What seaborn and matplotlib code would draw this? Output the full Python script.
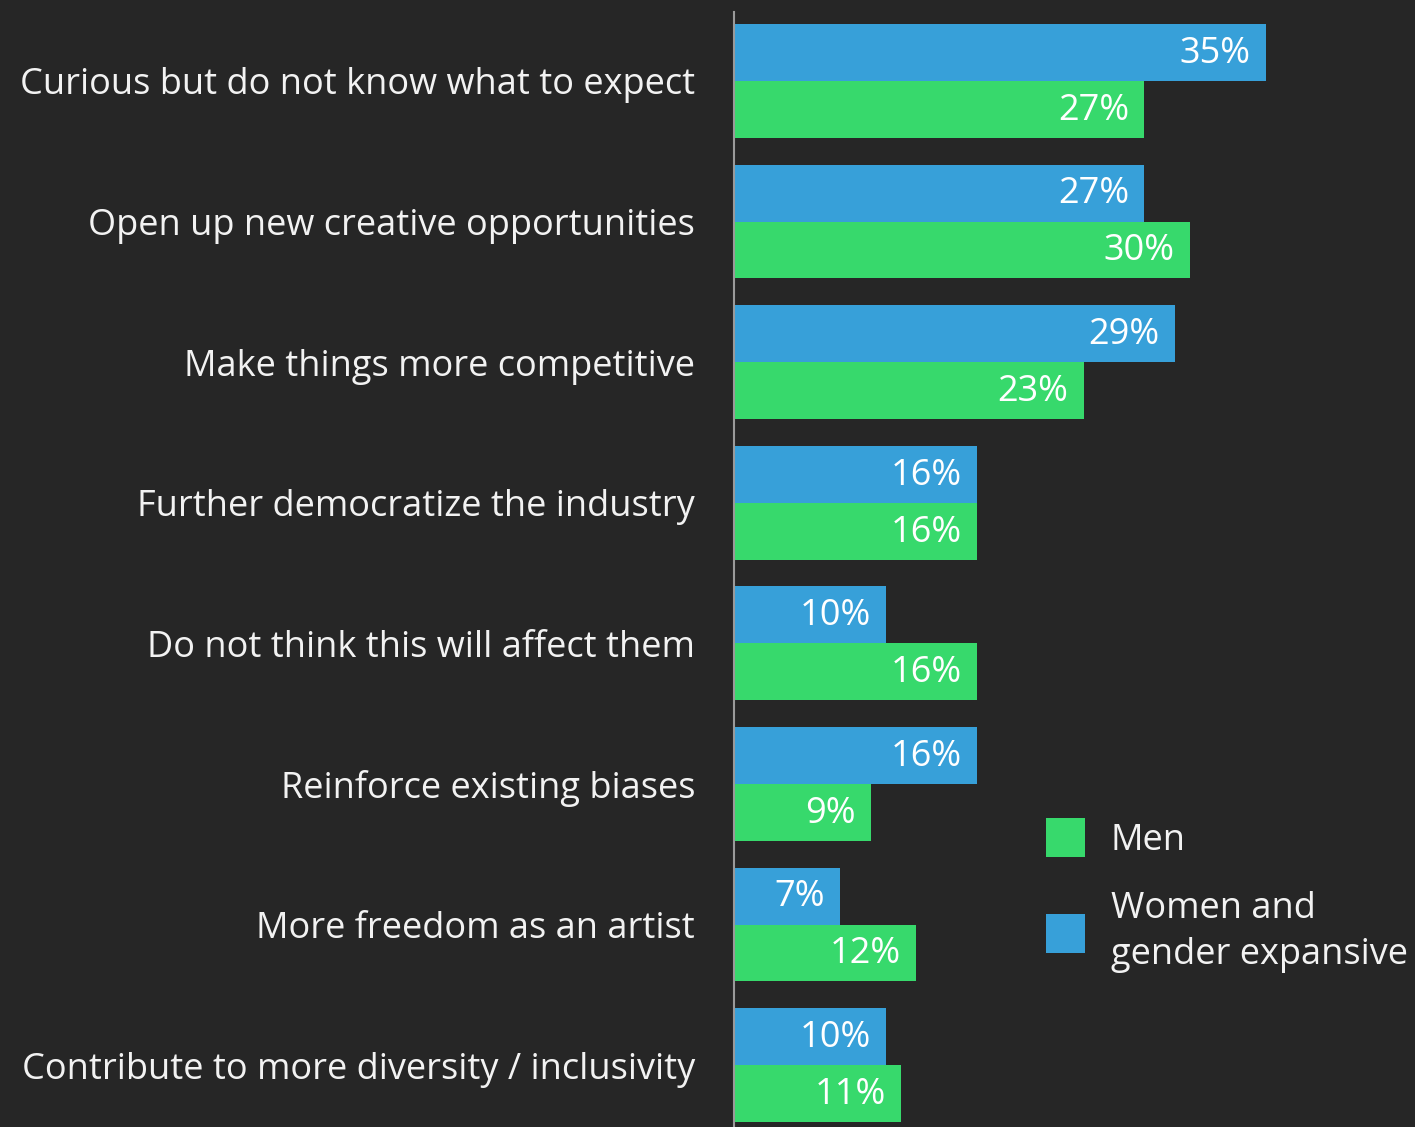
import matplotlib
matplotlib.use("Agg")
import matplotlib.pyplot as plt
from matplotlib.patches import Patch
import seaborn as sns
import pandas as pd

categories = [
    "Curious but do not know what to expect",
    "Open up new creative opportunities",
    "Make things more competitive",
    "Further democratize the industry",
    "Do not think this will affect them",
    "Reinforce existing biases",
    "More freedom as an artist",
    "Contribute to more diversity / inclusivity",
]
women = [35, 27, 29, 16, 10, 16, 7, 10]
men = [27, 30, 23, 16, 16, 9, 12, 11]

series_women = "Women and\ngender expansive"
series_men = "Men"

BG = "#262626"
BLUE = "#37A0D9"
GREEN = "#37D96C"
TEXT = "#F2F2F2"

df = pd.DataFrame({
    "category": categories * 2,
    "value": women + men,
    "group": [series_women] * len(categories) + [series_men] * len(categories),
})

sns.set_theme(style="white")
plt.rcParams["font.family"] = ["Open Sans", "DejaVu Sans"]

fig = plt.figure(figsize=(14.15, 11.27), dpi=100, facecolor=BG)
ax = fig.add_axes([734 / 1415, 0, 1 - 734 / 1415, (1127 - 12) / 1127])
ax.set_facecolor(BG)

sns.barplot(
    data=df, y="category", x="value", hue="group",
    hue_order=[series_women, series_men],
    palette=[BLUE, GREEN], orient="h", width=0.81,
    saturation=1, linewidth=0, ax=ax, legend=False,
)

ax.set_xlim(0, (1415 - 734) / 15.2)
ax.set_ylim(7.44, -0.49)

for container in ax.containers:
    for patch in container:
        w = patch.get_width()
        yc = patch.get_y() + patch.get_height() / 2
        ax.annotate(f"{w:.0f}%", xy=(w, yc), xytext=(-11, -1),
                    textcoords="offset points", ha="right", va="center",
                    color="white", fontsize=26)

ax.set_xlabel("")
ax.set_ylabel("")
ax.set_xticks([])
ax.tick_params(axis="y", length=0, pad=28, labelsize=26, labelcolor=TEXT)
for side in ["top", "right", "bottom"]:
    ax.spines[side].set_visible(False)
ax.spines["left"].set_color("#9A9A9A")
ax.spines["left"].set_linewidth(1.5)

handles = [Patch(facecolor=GREEN, edgecolor="none", label=series_men),
           Patch(facecolor=BLUE, edgecolor="none", label=series_women)]
leg = fig.legend(handles=handles, loc="upper left",
                 bbox_to_anchor=(1046 / 1415, 1 - 818 / 1127),
                 frameon=False, fontsize=26, labelcolor=TEXT,
                 handlelength=1.08, handleheight=1.285, handletextpad=0.72,
                 labelspacing=0.9, borderpad=0, borderaxespad=0)
for t in leg.get_texts():
    t.set_linespacing(1.35)

fig.savefig("out.png", dpi=100, facecolor=BG)
